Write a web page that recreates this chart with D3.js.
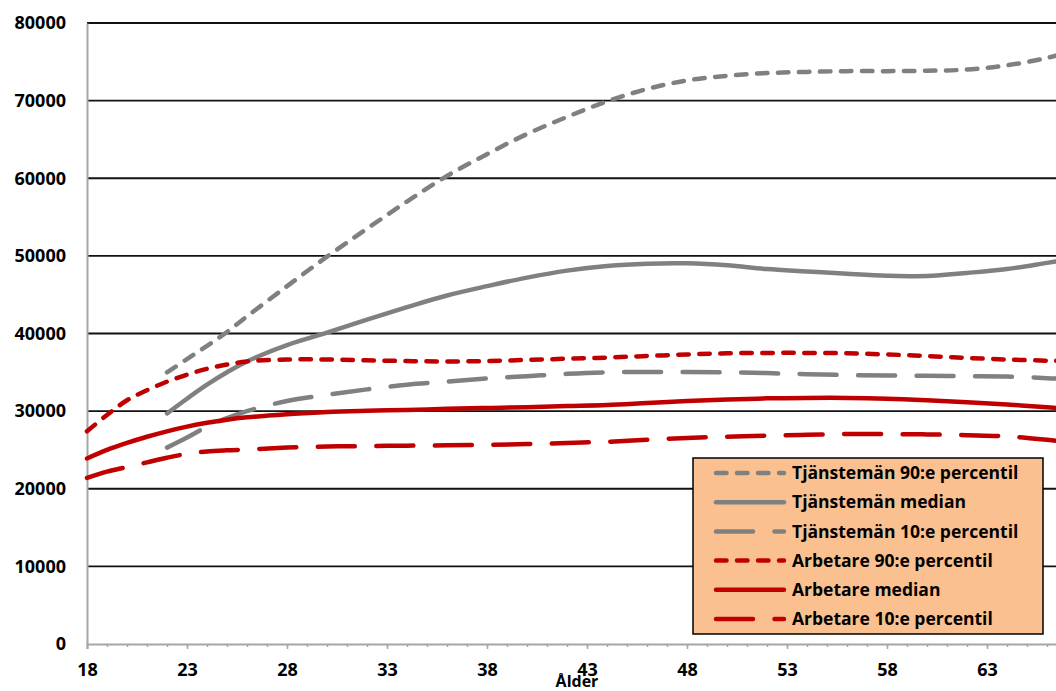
<!DOCTYPE html>
<html><head><meta charset="utf-8">
<script src="https://cdn.jsdelivr.net/npm/d3@7"></script>
<style>body{margin:0;background:#fff}svg{display:block}text{font-family:"Open Sans","Liberation Sans",sans-serif;font-weight:bold;fill:#000}</style>
</head><body>
<svg id="c" width="1056" height="691"></svg>
<script>
const yTicks = [0,10000,20000,30000,40000,50000,60000,70000,80000];
const xTickLabels = [18,23,28,33,38,43,48,53,58,63];
const agesA = [18,19,20,21,22,23,24,25,26,28,30,32,34,36,38,40,42,44,46,48,50,52,54,56,58,60,62,64,66,67];
const agesT = [22,23,24,25,26,28,30,32,34,36,38,40,42,44,46,48,50,52,54,56,58,60,62,64,66,67];
const tj90 = [35000,36700,38400,40200,42200,46100,49900,53500,57000,60300,63100,65700,67900,69900,71500,72600,73200,73550,73700,73800,73800,73850,74000,74550,75500,76200];
const tjMed = [29700,31600,33400,35000,36400,38500,40100,41800,43400,44900,46100,47200,48100,48700,49000,49050,48800,48300,48000,47700,47450,47400,47800,48300,49100,49500];
const tj10 = [25300,26600,28000,29100,30000,31300,32100,32800,33400,33800,34200,34500,34800,35000,35050,35050,35000,34900,34750,34650,34600,34550,34500,34450,34250,34100];
const arb90 = [27400,29500,31400,32700,33800,34700,35450,36000,36400,36650,36650,36550,36450,36400,36450,36600,36750,36900,37100,37300,37450,37500,37500,37450,37300,37100,36850,36650,36500,36450];
const arbMed = [23900,25000,25900,26700,27400,28000,28500,28900,29200,29600,29900,30050,30150,30300,30400,30500,30650,30800,31050,31300,31500,31650,31700,31700,31600,31400,31150,30850,30500,30300];
const arb10 = [21400,22200,22800,23400,24000,24500,24800,24950,25050,25300,25450,25500,25550,25600,25650,25750,25900,26050,26300,26550,26700,26850,26950,27050,27050,27000,26900,26750,26300,26050];
const seriesNames = ["Tjänstemän 90:e percentil","Tjänstemän median","Tjänstemän 10:e percentil","Arbetare 90:e percentil","Arbetare median","Arbetare 10:e percentil"];

const GRAY="#808080", RED="#C00000";
const series = [
  {name:seriesNames[0], ages:agesT, vals:tj90, color:GRAY, dash:"10.5 10.5"},
  {name:seriesNames[1], ages:agesT, vals:tjMed, color:GRAY, dash:null},
  {name:seriesNames[2], ages:agesT, vals:tj10, color:GRAY, dash:"37 21.5"},
  {name:seriesNames[3], ages:agesA, vals:arb90, color:RED, dash:"10.5 10.5"},
  {name:seriesNames[4], ages:agesA, vals:arbMed, color:RED, dash:null},
  {name:seriesNames[5], ages:agesA, vals:arb10, color:RED, dash:"37 21.5"}
];

const svg = d3.select("#c");
const x = d3.scaleLinear().domain([18,67]).range([87,1067]);
const y = d3.scaleLinear().domain([0,80000]).range([644,23]);
const W = 1056;
const FF = '"Open Sans",sans-serif';

// gridlines
svg.append("g").selectAll("line").data(yTicks.filter(d=>d>0)).join("line")
  .attr("x1",87).attr("x2",W).attr("y1",d=>y(d)).attr("y2",d=>y(d))
  .attr("stroke","#111").attr("stroke-width",1.8);

// y axis
const yAxis = svg.append("g").attr("transform","translate(87,0)")
  .call(d3.axisLeft(y).tickValues(yTicks).tickSize(0).tickPadding(21).tickFormat(d3.format("d")));
yAxis.select(".domain").attr("stroke","#a6a6a6").attr("stroke-width",2);
yAxis.selectAll("text").attr("font-size",18).style("font-family",FF).style("font-weight","bold");

// x axis
const allYears = d3.range(18,68);
const xAxisMinor = svg.append("g").attr("transform","translate(0,644)")
  .call(d3.axisBottom(x).tickValues(allYears).tickSize(3).tickFormat(""));
xAxisMinor.select(".domain").remove();
xAxisMinor.selectAll("line").attr("stroke","#a6a6a6").attr("stroke-width",1.5);
const xAxis = svg.append("g").attr("transform","translate(0,644)")
  .call(d3.axisBottom(x).tickValues(xTickLabels).tickSize(5).tickPadding(14).tickFormat(d3.format("d")));
xAxis.select(".domain").attr("stroke","#a6a6a6").attr("stroke-width",2);
xAxis.selectAll("line").attr("stroke","#a6a6a6").attr("stroke-width",1.5);
xAxis.selectAll("text").attr("font-size",18).style("font-family",FF).style("font-weight","bold");

svg.append("text").attr("x",x(42.5)).attr("y",687).attr("text-anchor","middle")
  .attr("font-size",16).text("Ålder");

// lines
const line = d3.line().x(d=>x(d[0])).y(d=>y(d[1])).curve(d3.curveCatmullRom.alpha(0.5));
svg.append("g").selectAll("path").data(series).join("path")
  .attr("d",s=>line(s.ages.map((a,i)=>[a,s.vals[i]])))
  .attr("fill","none").attr("stroke",s=>s.color).attr("stroke-width",4.5)
  .attr("stroke-linecap","round").attr("stroke-dasharray",s=>s.dash);

// legend
const lg = svg.append("g");
lg.append("rect").attr("x",693).attr("y",458).attr("width",350).attr("height",176)
  .attr("fill","#FAC090").attr("stroke","#000").attr("stroke-width",1.5);
const rows = lg.selectAll("g.row").data(series).join("g").attr("class","row")
  .attr("transform",(d,i)=>`translate(0,${473+i*29.2})`);
rows.append("line").attr("x1",716).attr("x2",784).attr("y1",0).attr("y2",0)
  .attr("stroke",d=>d.color).attr("stroke-width",4.5).attr("stroke-linecap","round")
  .attr("stroke-dasharray",d=>d.dash);
rows.append("text").attr("x",792).attr("y",0).attr("dy","0.35em").attr("font-size",17.5).text(d=>d.name);
</script>
</body></html>
